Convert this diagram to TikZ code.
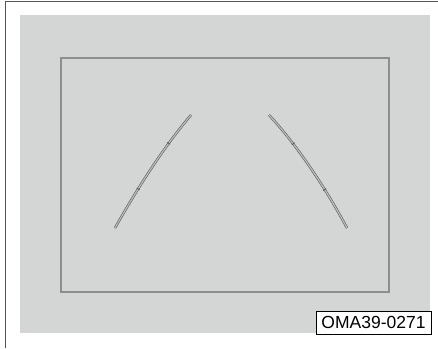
\documentclass[tikz,border=0pt]{standalone}
\usepackage{fontspec}
\setmainfont{Liberation Sans}
\definecolor{panelgray}{HTML}{D4D6D5}
\definecolor{framegray}{HTML}{8E8E8E}
\definecolor{edgegray}{HTML}{555555}
\begin{document}
\begin{tikzpicture}[x=1pt,y=-1pt,
  guide/.style={draw=edgegray, line width=0.55pt, double=framegray!60, double distance=1.3pt},
  tickmark/.style={sloped, fill=edgegray, inner sep=0pt, minimum width=0.8pt, minimum height=3.4pt}]

\useasboundingbox (0,0) rectangle (438,348);

% -------------------------------------------------
% Cadre exterieur
% -------------------------------------------------
\draw[edgegray, line width=1pt] (5,348) -- (5,1) -- (438,1);

% -------------------------------------------------
% Ecran (fond gris + cadre)
% -------------------------------------------------
\fill[panelgray] (20,15) rectangle (430,333);
\draw[framegray, line width=2pt] (61,58) rectangle (389,292);

% -------------------------------------------------
% Lignes de guidage (avec reperes)
% -------------------------------------------------
\draw[guide] (115,228) .. controls (134.6,193.2) and (161.8,149.2) .. (191,115)
  node[tickmark, pos=0.35] (l1) {} node[tickmark, pos=0.74] (l2) {};
\draw[guide] (269,115) .. controls (299.6,147.9) and (328.2,192.8) .. (347,228)
  node[tickmark, pos=0.27] (r1) {} node[tickmark, pos=0.66] (r2) {};

% -------------------------------------------------
% Reference
% -------------------------------------------------
\node[draw, fill=white, line width=0.8pt, inner sep=0pt,
      minimum width=115pt, minimum height=23pt,
      font=\fontsize{17.5}{18}\selectfont] (ref) at (373.5,322.5) {OMA39-0271};

\end{tikzpicture}
\end{document}
